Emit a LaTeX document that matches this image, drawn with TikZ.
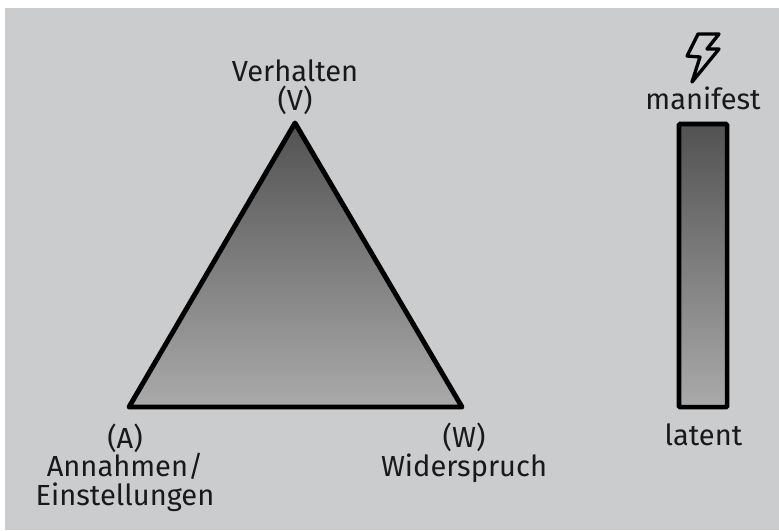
\documentclass[tikz,border=0pt]{standalone}
\usepackage{fontspec}
\setmainfont{Fira Sans}
\usetikzlibrary{positioning}
\definecolor{paneL}{RGB}{203,204,206}
\definecolor{topG}{RGB}{82,82,82}
\definecolor{lowG}{RGB}{170,170,170}
\begin{document}
\begin{tikzpicture}[x=0.01cm,y=-0.01cm,
  label/.style={font=\fontsize{8.26}{8.15}\selectfont,align=center,inner sep=0pt,text=black!90}]
 \useasboundingbox (0,0) rectangle (779,530);
 \fill[paneL] (5,8) rectangle (779,530);
 % triangle
 \coordinate (apexV) at (295,123);
 \coordinate (cornerA) at (129,407);
 \coordinate (cornerW) at (462,407);
 \shade[top color=topG,bottom color=lowG] (apexV) -- (cornerA) -- (cornerW) -- cycle;
 \draw[line width=1.4pt,line join=round] (apexV) -- (cornerA) -- (cornerW) -- cycle;
 % bar
 \node (bar) [draw,line width=1.3pt,rounded corners=0.3pt,top color=topG,bottom color=lowG,minimum width=0.48cm,minimum height=2.83cm,inner sep=0pt,anchor=north west,outer sep=0pt] at (679,124) {};
 \begin{scope}[every node/.style={label}]
   \node (verhalten) at (295,87) {Verhalten\\(V)};
   \node (annahmen) at (125,467.5) {(A)\\Annahmen/\\Einstellungen};
   \node (widerspruch) at (464,453) {(W)\\Widerspruch};
   \node (manifest) at (703,98.5) {manifest};
   \node (latent) at (703.5,435) {latent};
 \end{scope}
 % flash
 \draw[line width=0.95pt,line join=round,line cap=round] (698,34) -- (719,34) -- (707,49) -- (719,49) -- (692,82) -- (700,57) -- (687,56) -- cycle;
\end{tikzpicture}
\end{document}
